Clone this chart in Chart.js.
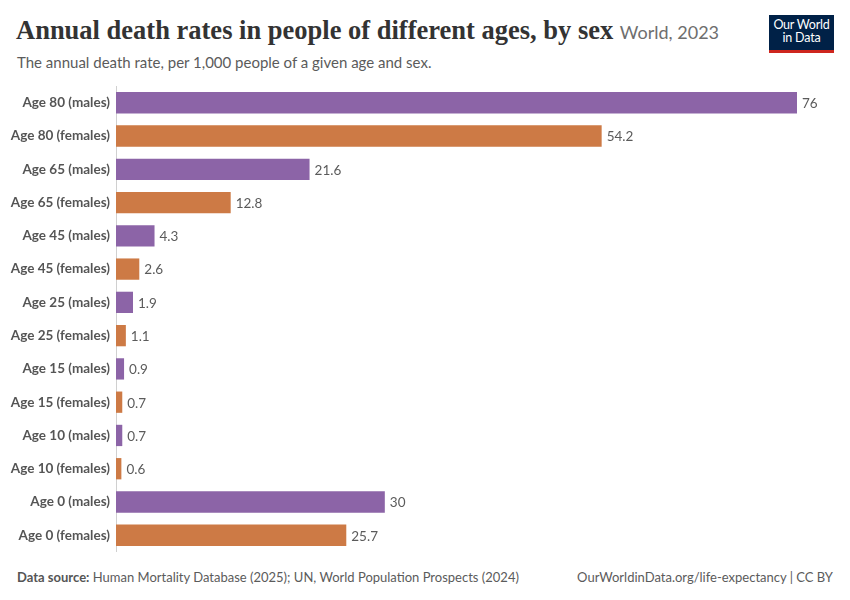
<!DOCTYPE html>
<html>
<head>
<meta charset="utf-8">
<script src="https://cdn.jsdelivr.net/npm/chart.js@4.4.1/dist/chart.umd.min.js"></script>
<style>
  body { margin: 0; background: #fff; font-family: Lato, "Noto Sans", sans-serif; }
  #page { position: relative; width: 850px; height: 600px; overflow: hidden; }
  #title { position: absolute; left: 16px; top: 15px; font-family: "Liberation Serif", serif; font-weight: 700; font-size: 26.5px; color: #333; white-space: nowrap; }
  #title span { font-family: Lato, sans-serif; font-weight: 400; font-size: 18px; color: #6e6e6e; }
  #subtitle { position: absolute; left: 17px; top: 53px; font-size: 15px; color: #5b5b5b; }
  #logo { position: absolute; left: 769px; top: 15px; width: 65px; height: 32px; background: #002147; border-bottom: 3px solid #ce261e; color: #fff; font-size: 12.5px; line-height: 13px; text-align: center; padding-top: 3px; box-sizing: content-box; letter-spacing: -0.2px; }
  #chartBox { position: absolute; left: 0; top: 72px; width: 850px; height: 494px; }
  #footer { position: absolute; left: 17px; right: 17px; top: 569px; font-size: 13px; color: #5b5b5b; }
  #footer b { font-weight: 700; color: #555; }
  #footer .right { position: absolute; right: 0; top: 0; }
</style>
</head>
<body>
<div id="page">
  <div id="title">Annual death rates in people of different ages, by sex <span>World, 2023</span></div>
  <div id="subtitle">The annual death rate, per 1,000 people of a given age and sex.</div>
  <div id="logo">Our World<br>in Data</div>
  <div id="chartBox"><canvas id="deathChart"></canvas></div>
  <div id="footer"><b>Data source:</b> Human Mortality Database (2025); UN, World Population Prospects (2024)<span class="right">OurWorldinData.org/life-expectancy | CC BY</span></div>
</div>
<script>
// 数据
const categories = [
  'Age 80 (males)', 'Age 80 (females)', 'Age 65 (males)', 'Age 65 (females)',
  'Age 45 (males)', 'Age 45 (females)', 'Age 25 (males)', 'Age 25 (females)',
  'Age 15 (males)', 'Age 15 (females)', 'Age 10 (males)', 'Age 10 (females)',
  'Age 0 (males)', 'Age 0 (females)'
];
const deathRates = [76, 54.2, 21.6, 12.8, 4.3, 2.6, 1.9, 1.1, 0.9, 0.7, 0.7, 0.6, 30, 25.7];
const sexes = ['m', 'f', 'm', 'f', 'm', 'f', 'm', 'f', 'm', 'f', 'm', 'f', 'm', 'f'];

const maleColor = '#8c64a7';
const femaleColor = '#cd7a45';

// 柱子末端的数值标签
const valueLabels = {
  id: 'valueLabels',
  afterDatasetsDraw(chart) {
    const ctx = chart.ctx;
    const meta = chart.getDatasetMeta(0);
    ctx.save();
    ctx.font = '13.5px Lato, sans-serif';
    ctx.fillStyle = '#5b5b5b';
    ctx.textAlign = 'left';
    ctx.textBaseline = 'middle';
    meta.data.forEach((bar, i) => {
      ctx.fillText(String(deathRates[i]), bar.x + 5, bar.y + 1);
    });
    ctx.restore();
  }
};

new Chart(document.getElementById('deathChart'), {
  type: 'bar',
  data: {
    labels: categories,
    datasets: [{
      data: deathRates,
      backgroundColor: sexes.map(s => s === 'm' ? maleColor : femaleColor),
      borderWidth: 0,
      categoryPercentage: 0.64,
      barPercentage: 1
    }]
  },
  options: {
    indexAxis: 'y',
    responsive: true,
    maintainAspectRatio: false,
    animation: false,
    layout: { padding: { top: 5, bottom: 8, left: 0, right: 53 } },
    plugins: { legend: { display: false }, tooltip: { enabled: false } },
    scales: {
      x: {
        display: false,
        min: 0,
        max: 76
      },
      y: {
        afterFit(scale) { scale.width = 116; },
        grid: { display: false, drawTicks: false },
        border: { display: true, color: '#d0d0d0', width: 1 },
        ticks: {
          color: '#555',
          padding: 6,
          font: { family: 'Lato, sans-serif', size: 13.5, weight: 'bold' }
        }
      }
    }
  },
  plugins: [valueLabels]
});
</script>
</body>
</html>
